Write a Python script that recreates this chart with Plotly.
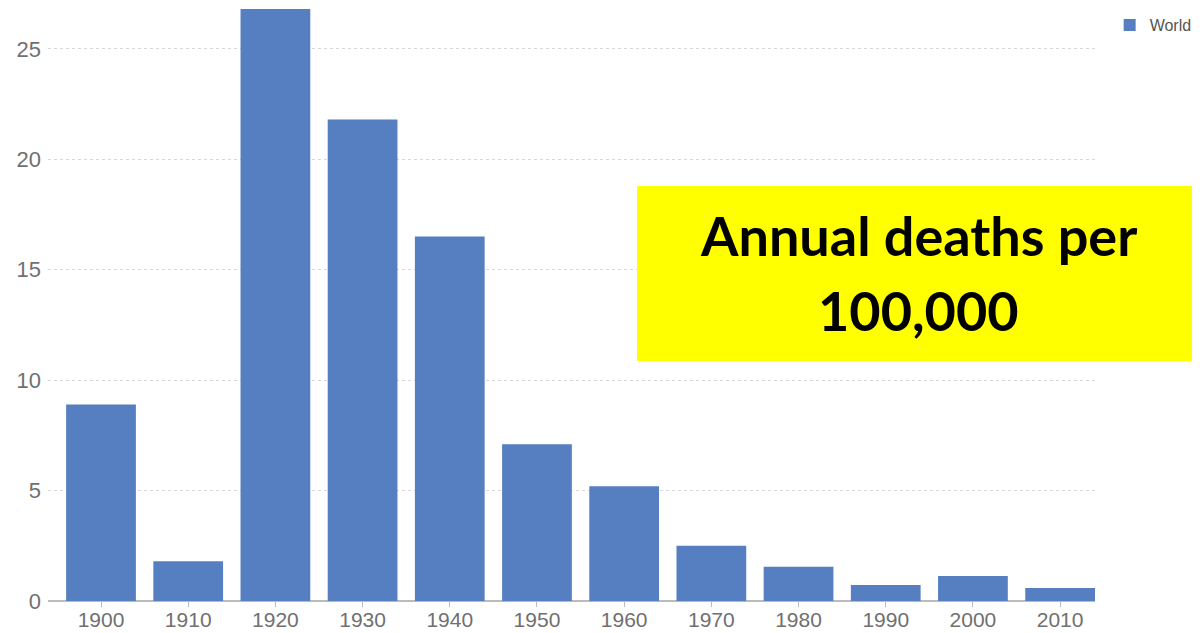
import plotly.graph_objects as go

decades = ["1900", "1910", "1920", "1930", "1940", "1950", "1960", "1970", "1980", "1990", "2000", "2010"]
deaths_per_100k = [8.9, 1.8, 26.8, 21.8, 16.5, 7.1, 5.2, 2.5, 1.55, 0.72, 1.13, 0.59]
y_ticks = [0, 5, 10, 15, 20, 25]
series_name = "World"
box_line1 = "Annual deaths per"
box_line2 = "100,000"

bar_color = "#557fc0"

fig = go.Figure()
fig.add_trace(go.Bar(
    x=list(range(len(decades))),
    y=deaths_per_100k,
    name=series_name,
    marker=dict(color=bar_color, line=dict(width=0)),
    showlegend=True,
))

# page is rendered with an 8px body margin, so the figure is 1192x625
fig.update_layout(
    width=1192, height=625,
    margin=dict(l=40, r=105, t=0, b=32, autoexpand=False),
    plot_bgcolor="white",
    paper_bgcolor="white",
    bargap=0.2,
    font=dict(family="Liberation Sans, Arial, sans-serif", color="#707070"),
    legend=dict(x=1.014, y=1.0, xanchor="left", yanchor="top",
                font=dict(size=16, color="#555555"),
                bgcolor="rgba(0,0,0,0)"),
    xaxis=dict(
        tickmode="array",
        tickvals=list(range(len(decades))),
        ticktext=decades,
        range=[-0.608, 11.4],
        showgrid=False,
        ticks="outside", ticklen=5, tickcolor="#bbbbbb",
        tickfont=dict(size=21, color="#707070"),
        ticklabelstandoff=-5,
        showline=False,
        zeroline=False,
        automargin=False,
    ),
    yaxis=dict(
        range=[0, 26.85],
        tickvals=y_ticks,
        showgrid=True, gridcolor="#d8d8d8", griddash="dot", gridwidth=1,
        zeroline=True, zerolinecolor="#bbbbbb", zerolinewidth=2,
        tickfont=dict(size=22, color="#707070"),
        ticks="", ticklabelstandoff=6,
        showline=False,
        automargin=False,
    ),
)

fig.add_shape(type="rect", xref="paper", yref="paper",
              x0=0.5626, x1=1.1003, y0=0.4047, y1=0.6998,
              fillcolor="#ffff00", line=dict(width=0), layer="above")

fig.add_annotation(xref="paper", yref="paper", x=0.8315, y=0.6172,
                   text=box_line1, showarrow=False, xanchor="center", yanchor="middle",
                   font=dict(family="Lato, Open Sans, sans-serif", size=54, color="black", weight="bold"))
fig.add_annotation(xref="paper", yref="paper", x=0.8315, y=0.4907,
                   text=box_line2, showarrow=False, xanchor="center", yanchor="middle",
                   font=dict(family="Lato, Open Sans, sans-serif", size=54, color="black", weight="bold"))

fig.write_html("out.html")
